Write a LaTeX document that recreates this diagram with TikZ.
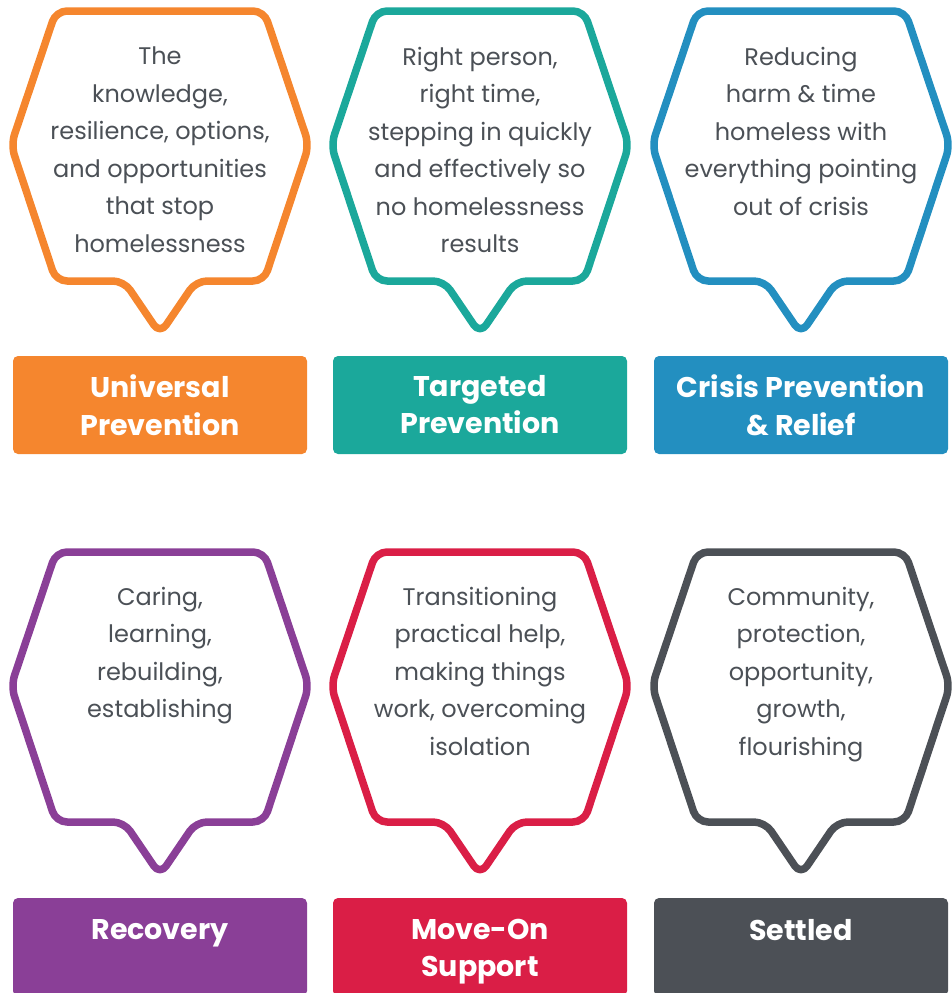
\documentclass[tikz,border=0pt]{standalone}
\usepackage{fontspec}
\setmainfont{Poppins}
\usepackage{tikz}
\usetikzlibrary{positioning}

\definecolor{uporange}{HTML}{F5862E}
\definecolor{tpteal}{HTML}{1BA89B}
\definecolor{crblue}{HTML}{238FC0}
\definecolor{recpurple}{HTML}{8A3F97}
\definecolor{moved}{HTML}{DA1E46}
\definecolor{setgrey}{HTML}{4C5056}
\definecolor{textgrey}{HTML}{4B5056}

\tikzset{
  bubble/.style={line width=7.5pt, rounded corners=11pt, line join=round},
  bodytext/.style={text=textgrey, align=center, inner sep=0pt, font=\fontsize{24}{37.5}\selectfont},
  titlebox/.style={rounded corners=5pt, minimum width=294pt, minimum height=98pt, inner sep=0pt},
  titletext/.style={text=white, align=center, inner sep=0pt, font=\bfseries\fontsize{28.5}{37.5}\selectfont}
}
% speech hexagon, centred on x=0, top of row at y=0
\newcommand{\bubbleoutline}{(-104,11) -- (104,11) -- (149,145) -- (104,281) -- (36,281) -- (0,334) -- (-36,281) -- (-104,281) -- (-149,145) -- cycle}

\begin{document}
\begin{tikzpicture}[x=1pt,y=-1pt]
     \useasboundingbox (0,0) rectangle (951,993);

     % top row
     \draw[bubble, draw=uporange, shift={(160,0)}] \bubbleoutline;
     \draw[bubble, draw=tpteal, shift={(480,0)}] \bubbleoutline;
     \draw[bubble, draw=crblue, shift={(801,0)}] \bubbleoutline;

     \node[bodytext, anchor=north] (universaltext) at (160,47) {The\\knowledge,\\resilience, options,\\and opportunities\\that stop\\homelessness};
     \node[bodytext, anchor=north] (targetedtext) at (480,47) {Right person,\\right time,\\stepping in quickly\\and effectively so\\no homelessness\\results};
     \node[bodytext, anchor=north] (crisistext) at (801,47) {Reducing\\harm \& time\\homeless with\\everything pointing\\out of crisis};

     \node[titlebox, fill=uporange] (universal) at (160,405) {};
     \node[titletext, below=19pt of universal.north] (universallabel) {Universal\\Prevention};
     \node[titlebox, fill=tpteal] (targeted) at (480,405) {};
     \node[titletext, below=19pt of targeted.north] (targetedlabel) {Targeted\\Prevention};
     \node[titlebox, fill=crblue] (crisis) at (801,405) {};
     \node[titletext, below=19pt of crisis.north] (crisislabel) {Crisis Prevention\\\& Relief};

     % bottom row
     \draw[bubble, draw=recpurple, shift={(160,541)}] \bubbleoutline;
     \draw[bubble, draw=moved, shift={(480,541)}] \bubbleoutline;
     \draw[bubble, draw=setgrey, shift={(801,541)}] \bubbleoutline;

     \node[bodytext, anchor=north] (recoverytext) at (160,587) {Caring,\\learning,\\rebuilding,\\establishing};
     \node[bodytext, anchor=north] (moveontext) at (480,587) {Transitioning\\practical help,\\making things\\work, overcoming\\isolation};
     \node[bodytext, anchor=north] (settledtext) at (801,587) {Community,\\protection,\\opportunity,\\growth,\\flourishing};

     \node[titlebox, fill=recpurple] (recovery) at (160,947) {};
     \node[titletext, below=21pt of recovery.north] (recoverylabel) {Recovery};
     \node[titlebox, fill=moved] (moveon) at (480,947) {};
     \node[titletext, below=21pt of moveon.north] (moveonlabel) {Move-On\\Support};
     \node[titlebox, fill=setgrey] (settled) at (801,947) {};
     \node[titletext, below=21pt of settled.north] (settledlabel) {Settled};
\end{tikzpicture}
\end{document}
